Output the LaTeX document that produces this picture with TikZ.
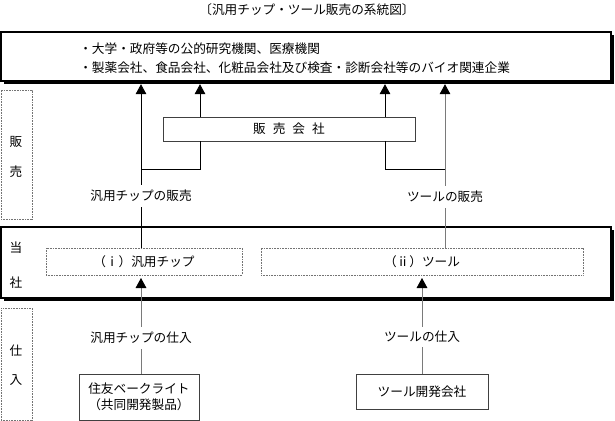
\documentclass[tikz,border=0pt]{standalone}
\usepackage{fontspec}
\setmainfont{Noto Sans CJK JP}
\usetikzlibrary{arrows.meta,shadows}
\definecolor{lgray}{HTML}{7A7A7A}
\begin{document}
\begin{tikzpicture}[x=0.75pt,y=-0.75pt,
  every node/.style={font=\fontsize{9.5}{12}\selectfont, inner sep=0pt},
  mainbox/.style={draw=black, line width=0.8pt, fill=white, drop shadow={opacity=1, fill=black, shadow xshift=2pt, shadow yshift=-2pt}},
  plainbox/.style={draw=black!75, line width=0.6pt, fill=white, align=center},
  dotbox/.style={draw=black!55, line width=0.5pt, dash pattern=on 0.6pt off 0.6pt},
  lbl/.style={fill=white, inner xsep=1pt, inner ysep=3.5pt},
  conn/.style={line width=0.6pt, draw=black},
  gconn/.style={line width=0.6pt, draw=lgray},
  arr/.style={-{Triangle[width=8pt,length=7.5pt,color=black]}, shorten >=2pt}
]
\useasboundingbox (0,0) rectangle (615,421);

% title
\node (title) at (307,10) {〔汎用チップ・ツール販売の系統図〕};

% customer box
\node[mainbox, minimum width=457.5pt, minimum height=36.75pt] (cust) at (306,56.5) {};
\node[anchor=west] (c1) at (79,49) {・大学・政府等の公的研究機関、医療機関};
\node[anchor=west] (c2) at (79,68) {・製薬会社、食品会社、化粧品会社及び検査・診断会社等のバイオ関連企業};

% side boxes
\node[dotbox, minimum width=23.25pt, minimum height=96.75pt] (sideA) at (16.5,154.5) {};
\node (sa1) at (16,142) {販};
\node (sa2) at (16,172) {売};
\node[dotbox, minimum width=23.25pt, minimum height=84pt] (sideB) at (16.5,364) {};
\node (sb1) at (16,351) {仕};
\node (sb2) at (16,380) {入};

% company box
\node[mainbox, minimum width=457.5pt, minimum height=53.25pt] (tosha) at (306,262.5) {};
\node (t1) at (16,248) {当};
\node (t2) at (16,283) {社};
\node[dotbox, fill=white, minimum width=147pt, minimum height=20.25pt] (chip) at (144,261.5) {（ⅰ）汎用チップ};
\node[dotbox, fill=white, minimum width=241.5pt, minimum height=20.25pt] (tool) at (422,261.5) {（ⅱ）ツール};

% sales company
\node[plainbox, minimum width=189pt, minimum height=18pt] (hs) at (289,129) {販\hspace{0.55em}売\hspace{0.55em}会\hspace{0.55em}社};

% suppliers
\node[plainbox, minimum width=90pt, minimum height=34.5pt] (sumi) at (139,397) {住友ベークライト\\（共同開発製品）};
\node[plainbox, minimum width=99pt, minimum height=26.25pt] (dev) at (422,391.5) {ツール開発会社};

% column coordinates
\coordinate (lx) at (141,0);
\coordinate (lx2) at (200,0);
\coordinate (rx2) at (385,0);
\coordinate (rx) at (445,0);
\coordinate (bx) at (422,0);
\coordinate (jl) at (141,169);
\coordinate (jr) at (445,169);

% sales connectors
\draw[conn, arr] (chip.north -| lx) -- (cust.south -| lx);
\draw[conn] (jl) -- (jl -| lx2) -- (hs.south -| lx2);
\draw[conn, arr] (hs.north -| lx2) -- (cust.south -| lx2);
\draw[gconn, arr] (tool.north -| rx) -- (cust.south -| rx);
\draw[conn] (jr) -- (jr -| rx2) -- (hs.south -| rx2);
\draw[conn, arr] (hs.north -| rx2) -- (cust.south -| rx2);
\node[lbl] (ls) at (141,196) {汎用チップの販売};
\node[lbl] (rs) at (445,197) {ツールの販売};

% purchase connectors
\draw[gconn, arr] (sumi.north -| lx) -- (chip.south -| lx);
\draw[gconn, arr] (dev.north -| bx) -- (tool.south -| bx);
\node[lbl] (lp) at (141,338) {汎用チップの仕入};
\node[lbl] (rp) at (422,337) {ツールの仕入};
\end{tikzpicture}
\end{document}
